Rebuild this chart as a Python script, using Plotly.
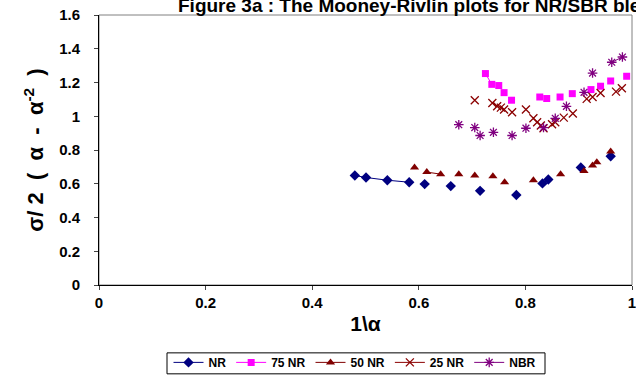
import plotly.graph_objects as go

# ---- data (None = break in the connecting line) ----
nr_x = [0.480, 0.501, 0.541, 0.582, None, 0.611, None, 0.660, None, 0.715, None, 0.783, None, 0.832, 0.843, None, 0.904, None, 0.960]
nr_y = [0.649, 0.637, 0.621, 0.609, None, 0.598, None, 0.586, None, 0.558, None, 0.533, None, 0.602, 0.625, None, 0.696, None, 0.763]

nr75_x = [0.725, 0.737, None, 0.750, None, 0.760, None, 0.774, None, 0.827, None, 0.840, None, 0.865, None, 0.888, None, 0.923, None, 0.941, None, 0.960, None, 0.990]
nr75_y = [1.253, 1.189, None, 1.182, None, 1.140, None, 1.095, None, 1.114, None, 1.105, None, 1.114, None, 1.134, None, 1.158, None, 1.178, None, 1.209, None, 1.237]

nr50_x = [0.592, None, 0.615, 0.641, None, 0.675, None, 0.705, None, 0.739, None, 0.761, None, 0.815, None, 0.866, None, 0.910, None, 0.926, None, 0.934, None, 0.960]
nr50_y = [0.696, None, 0.669, 0.657, None, 0.657, None, 0.649, None, 0.645, None, 0.609, None, 0.621, None, 0.657, None, 0.676, None, 0.708, None, 0.728, None, 0.791]

nr25_x = [0.705, None, 0.738, 0.747, 0.754, 0.760, None, 0.775, None, 0.801, None, 0.815, 0.822, 0.829, 0.834, None, 0.850, None, 0.856, None, 0.872, None, 0.889, None, 0.915, None, 0.926, None, 0.941, None, 0.970, None, 0.981]
nr25_y = [1.095, None, 1.079, 1.059, 1.051, 1.040, None, 1.024, None, 1.040, None, 0.988, 0.964, 0.945, 0.929, None, 0.953, None, 0.964, None, 0.992, None, 1.016, None, 1.103, None, 1.114, None, 1.138, None, 1.146, None, 1.166]

nbr_x = [0.675, None, 0.705, None, 0.715, None, 0.740, None, 0.775, None, 0.801, None, 0.834, None, 0.856, None, 0.877, None, 0.910, None, 0.926, None, 0.962, 0.982]
nbr_y = [0.950, None, 0.933, None, 0.886, None, 0.905, None, 0.886, None, 0.929, None, 0.933, None, 0.988, None, 1.059, None, 1.142, None, 1.256, None, 1.320, 1.351]

x_ticks = [0, 0.2, 0.4, 0.6, 0.8, 1]
y_ticks = [0, 0.2, 0.4, 0.6, 0.8, 1, 1.2, 1.4, 1.6]

FONT = "Arial, Liberation Sans, sans-serif"
NB = "\u00a0"

fig = go.Figure()

def add(name, xs, ys, color, symbol, size, open_=False):
    marker = dict(symbol=symbol, size=size, color=color)
    if open_:
        marker["line"] = dict(color=color, width=1.3)
    else:
        marker["line"] = dict(width=0)
    fig.add_trace(go.Scatter(x=xs, y=ys, name=name, mode="lines+markers",
                             connectgaps=False, cliponaxis=False,
                             line=dict(color=color, width=1),
                             marker=marker))

add("NR", nr_x, nr_y, "#000080", "diamond", 8)
add("75 NR", nr75_x, nr75_y, "#FF00FF", "square", 7)
add("50 NR", nr50_x, nr50_y, "#800000", "triangle-up", 8)
add("25 NR", nr25_x, nr25_y, "#8B0000", "x-thin-open", 8, True)
add("NBR", nbr_x, nbr_y, "#800080", "asterisk-open", 8, True)

ytitle = f"<b>σ/{NB}2{NB}{NB}({NB}{NB}α{NB}{NB}-{NB}{NB}α<sup>-2</sup>{NB}{NB})</b>"

fig.update_layout(
    width=636, height=376,
    margin=dict(l=99, r=4, t=14.5, b=91, autoexpand=False),
    paper_bgcolor="white", plot_bgcolor="white",
    font=dict(family=FONT, color="black"),
    showlegend=True,
    legend=dict(orientation="h", x=(355 - 99) / 533, xanchor="center",
                y=(285 - 348) / 270.5, yanchor="top",
                font=dict(size=12, family=FONT, weight="bold"),
                borderwidth=0, bgcolor="rgba(0,0,0,0)",
                itemwidth=30, tracegroupgap=0),
    annotations=[dict(text="<b>Figure 3a : The Mooney-Rivlin plots for NR/SBR blends</b>",
                      xref="paper", yref="paper", x=(176 - 99) / 533, y=(285 - 18) / 270.5,
                      xanchor="left", yanchor="bottom", showarrow=False,
                      font=dict(size=19, family=FONT))],
)

fig.update_xaxes(range=[0, 1], tickvals=x_ticks, ticks="outside", ticklen=4,
                 showgrid=False, zeroline=False, showline=True, linecolor="black",
                 linewidth=1, automargin=False, ticklabeloverflow="allow",
                 tickfont=dict(size=15, family=FONT, weight="bold"),
                 title=dict(text="<b>1\\α</b>", font=dict(size=21, family=FONT), standoff=6))
fig.update_yaxes(range=[0, 1.6], tickvals=y_ticks, ticks="outside", ticklen=4,
                 showgrid=False, zeroline=False, showline=True, linecolor="black",
                 linewidth=1, ticklabelstandoff=11, automargin=False, ticklabeloverflow="allow",
                 tickfont=dict(size=15, family=FONT, weight="bold"),
                 title=dict(text=ytitle, font=dict(size=22, family=FONT), standoff=9))

# gray plot-area frame (top/right)
fig.add_shape(type="rect", xref="paper", yref="paper", x0=0, y0=0, x1=1, y1=1,
              line=dict(color="#808080", width=1), layer="below")
# legend box
fig.add_shape(type="rect", xref="paper", yref="paper",
              x0=(167 - 99) / 533, x1=(545 - 99) / 533,
              y0=(285 - 374) / 270.5, y1=(285 - 353) / 270.5,
              line=dict(color="#000000", width=1), fillcolor="white", layer="below")

fig.write_html("out.html", config={"displayModeBar": False},
               post_script="document.body.style.margin='0px';document.body.style.overflow='hidden';")
